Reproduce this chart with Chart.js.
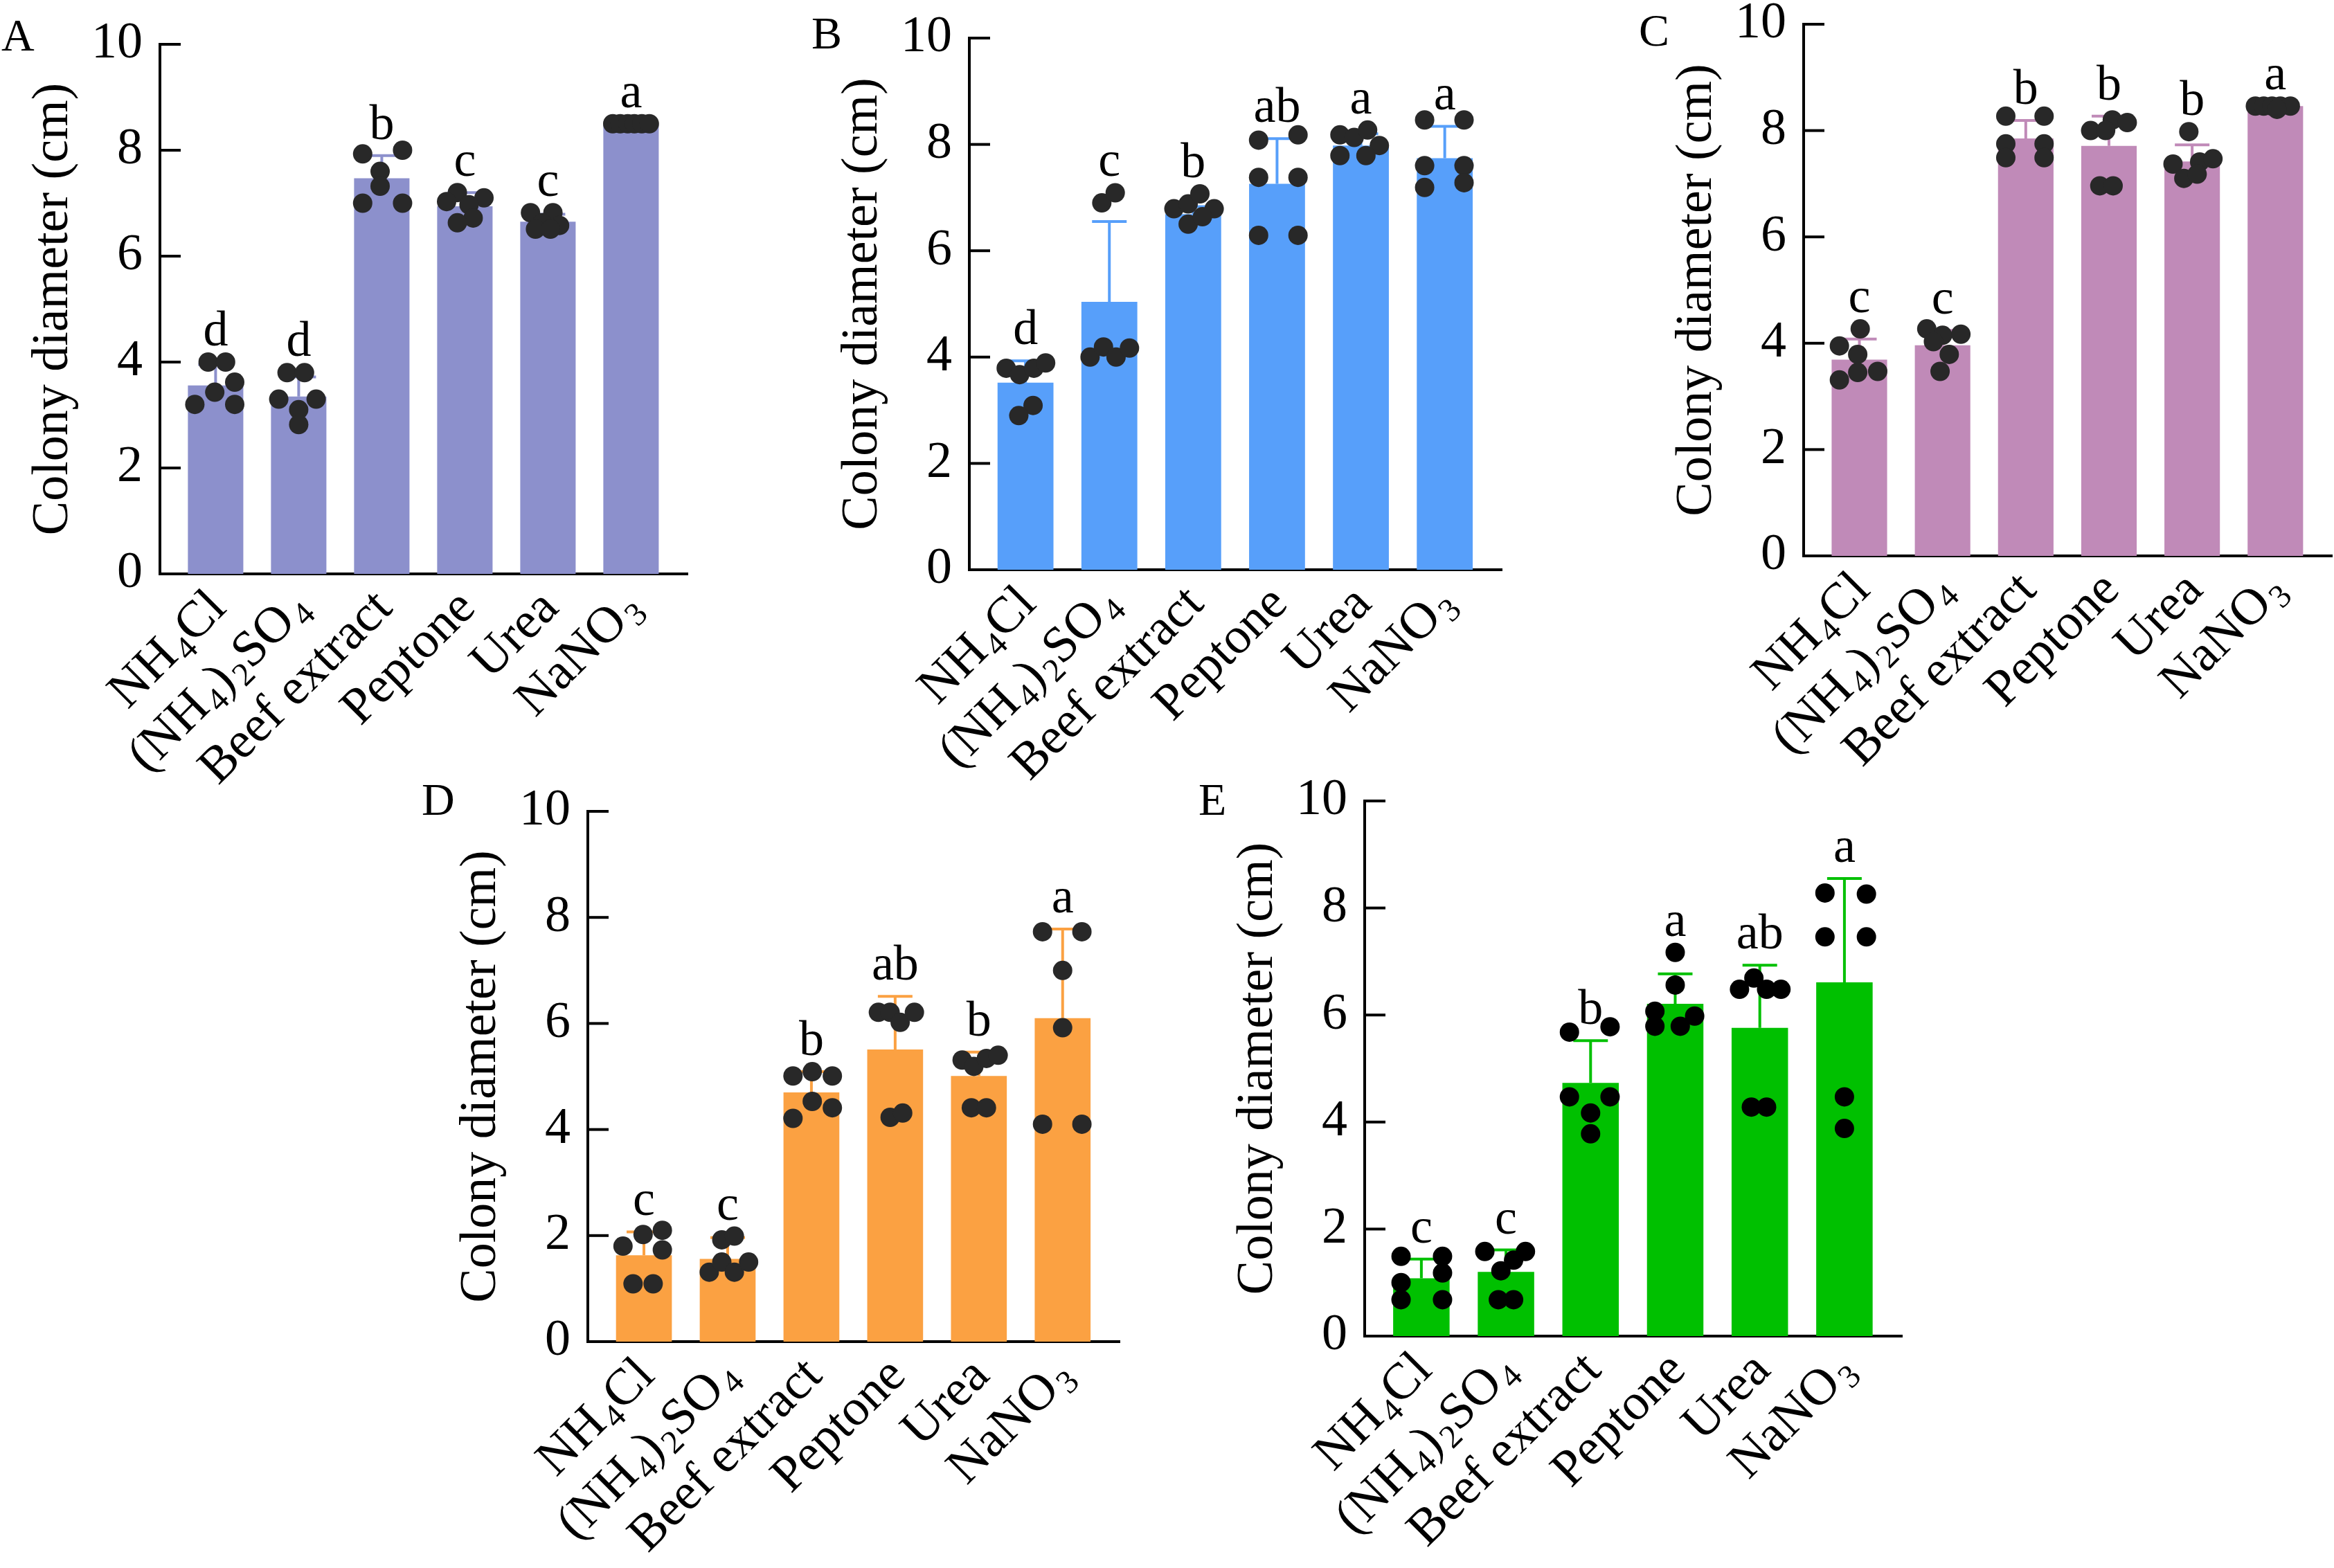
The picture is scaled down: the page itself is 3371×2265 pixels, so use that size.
<!DOCTYPE html>
<html>
<head>
<meta charset="utf-8">
<script src="https://cdn.jsdelivr.net/npm/chart.js@4.4.1/dist/chart.umd.min.js"></script>
<style>
  html, body { margin: 0; padding: 0; background: #fff; }
  body { width: 3371px; height: 2265px; position: relative; overflow: hidden;
         font-family: "Liberation Serif", "Times New Roman", serif; }
  .panel { position: absolute; }
  .tag { position: absolute; font-size: 66px; line-height: 66px; color: #000; }
</style>
</head>
<body>
<script>
// Categories and axis ticks shared by all five panels
const categories = ['NH4Cl', '(NH4)2SO4', 'Beef extract', 'Peptone', 'Urea', 'NaNO3'];
const yTicks = [0, 2, 4, 6, 8, 10];

// Panel A
const meansA = [3.56, 3.35, 7.47, 6.94, 6.65, 8.5];
const sdA = [0.39, 0.37, 0.43, 0.26, 0.14, 0];
const pointsA = [
  [4.0, 4.0, 3.62, 3.43, 3.2, 3.2],
  [3.8, 3.8, 3.3, 3.3, 3.1, 2.82],
  [7.93, 8.0, 7.6, 7.32, 7.0, 7.0],
  [7.2, 7.03, 7.1, 6.97, 6.72, 6.63],
  [6.82, 6.82, 6.63, 6.58, 6.51, 6.51],
  [8.5, 8.5, 8.5, 8.5, 8.5, 8.5]
];
const lettersA = ['d', 'd', 'b', 'c', 'c', 'a'];

// Panel B
const meansB = [3.52, 5.04, 6.69, 7.26, 7.98, 7.74];
const sdB = [0.41, 1.51, 0.14, 0.85, 0.22, 0.6];
const pointsB = [
  [3.79, 3.67, 3.79, 3.89, 3.09, 2.9],
  [6.9, 7.09, 4.0, 4.19, 4.0, 4.17],
  [6.79, 6.88, 7.07, 6.79, 6.5, 6.64],
  [8.08, 8.18, 7.38, 7.38, 6.29, 6.29],
  [8.18, 8.13, 8.27, 7.98, 7.79, 7.79],
  [8.46, 8.46, 7.6, 7.6, 7.19, 7.28]
];
const lettersB = ['d', 'c', 'b', 'ab', 'a', 'a'];

// Panel C
const meansC = [3.69, 3.96, 7.85, 7.71, 7.42, 8.46];
const sdC = [0.39, 0.28, 0.34, 0.56, 0.31, 0];
const pointsC = [
  [3.95, 4.27, 3.79, 3.47, 3.45, 3.31],
  [4.27, 4.15, 4.17, 4.03, 3.79, 3.47],
  [8.27, 8.27, 7.75, 7.75, 7.49, 7.49],
  [8.0, 8.2, 8.15, 8.0, 6.96, 6.96],
  [7.98, 7.37, 7.41, 7.47, 7.1, 7.18],
  [8.46, 8.46, 8.46, 8.46, 8.46, 8.4]
];
const lettersC = ['c', 'c', 'b', 'b', 'b', 'a'];

// Panel D
const meansD = [1.63, 1.56, 4.7, 5.51, 5.01, 6.1];
const sdD = [0.44, 0.4, 0.39, 1.0, 0.45, 1.68];
const pointsD = [
  [1.8, 2.02, 2.1, 1.73, 1.09, 1.09],
  [1.92, 1.99, 1.31, 1.5, 1.31, 1.5],
  [5.01, 5.09, 5.01, 4.53, 4.41, 4.21],
  [6.21, 6.21, 6.02, 6.21, 4.23, 4.31],
  [5.31, 5.19, 5.34, 5.4, 4.41, 4.41],
  [7.73, 7.73, 7.0, 5.92, 4.1, 4.1]
];
const lettersD = ['c', 'c', 'b', 'ab', 'b', 'a'];

// Panel E
const meansE = [1.08, 1.2, 4.73, 6.21, 5.76, 6.61];
const sdE = [0.36, 0.41, 0.79, 0.56, 1.17, 1.94];
const pointsE = [
  [1.49, 1.49, 1.18, 1.0, 0.68, 0.68],
  [1.58, 1.58, 1.42, 1.22, 0.68, 0.68],
  [5.68, 5.78, 4.47, 4.47, 4.17, 3.78],
  [7.17, 6.56, 6.07, 5.98, 5.79, 5.79],
  [6.48, 6.69, 6.48, 6.48, 4.28, 4.28],
  [8.28, 8.26, 7.46, 7.46, 4.47, 3.88]
];
const lettersE = ['c', 'c', 'b', 'a', 'ab', 'a'];

// Horizontal scatter of the dots inside each bar (fraction of category width)
const spreadA = [
  [-0.09, 0.12, 0.23, -0.01, -0.25, 0.23],
  [-0.14, 0.07, -0.24, 0.21, 0, 0],
  [-0.23, 0.25, -0.02, -0.02, -0.23, 0.25],
  [-0.09, -0.22, 0.23, 0.05, 0.1, -0.09],
  [-0.21, 0.06, -0.07, 0.14, -0.15, 0.03],
  [-0.22, -0.13, -0.04, 0.04, 0.13, 0.22]
];
const spreadB = [
  [-0.23, -0.07, 0.10, 0.24, 0.09, -0.08],
  [-0.09, 0.07, -0.23, -0.07, 0.08, 0.24],
  [-0.23, -0.06, 0.08, 0.25, -0.06, 0.11],
  [-0.22, 0.25, -0.22, 0.25, -0.22, 0.25],
  [-0.25, -0.08, 0.08, 0.22, -0.25, 0.06],
  [-0.24, 0.23, -0.24, 0.23, -0.24, 0.23]
];
const spreadC = [
  [-0.24, 0.01, -0.02, 0.22, -0.02, -0.24],
  [-0.19, 0, 0.22, -0.11, 0.08, -0.03],
  [-0.24, 0.22, -0.24, 0.22, -0.24, 0.22],
  [-0.22, 0.04, 0.22, -0.04, -0.11, 0.05],
  [-0.04, -0.23, 0.09, 0.25, -0.1, 0.06],
  [-0.24, -0.14, -0.04, 0.06, 0.18, 0.02]
];
const spreadD = [
  [-0.25, -0.01, 0.22, 0.22, -0.13, 0.11],
  [-0.07, 0.08, -0.22, -0.07, 0.08, 0.25],
  [-0.22, 0.01, 0.25, 0.01, 0.25, -0.22],
  [-0.2, -0.06, 0.06, 0.23, -0.06, 0.09],
  [-0.2, -0.06, 0.09, 0.23, -0.09, 0.09],
  [-0.24, 0.23, 0, 0, -0.24, 0.23]
];
const spreadE = [
  [-0.24, 0.25, 0.25, -0.24, -0.24, 0.25],
  [-0.25, 0.23, 0.09, -0.06, -0.09, 0.09],
  [-0.25, 0.23, -0.25, 0.23, 0, 0],
  [0, 0, -0.24, 0.23, -0.24, 0.06],
  [-0.24, -0.07, 0.08, 0.25, -0.1, 0.08],
  [-0.23, 0.26, -0.23, 0.26, 0, 0]
];

const FONT = '"Liberation Serif", "Times New Roman", serif';
Chart.defaults.font.family = FONT;
Chart.defaults.color = '#000';

const panels = [
  { tag: 'A', tagPos: [2, 18], box: { left: 231, top: 64, right: 993, bottom: 829 },
    means: meansA, sd: sdA, points: pointsA, spread: spreadA, letters: lettersA,
    color: '#8c90cc', dot: '#282828' },
  { tag: 'B', tagPos: [1172, 15], box: { left: 1400, top: 55, right: 2169, bottom: 823 },
    means: meansB, sd: sdB, points: pointsB, spread: spreadB, letters: lettersB,
    color: '#579ffa', dot: '#282828' },
  { tag: 'C', tagPos: [2367, 11], box: { left: 2605, top: 35, right: 3368, bottom: 803 },
    means: meansC, sd: sdC, points: pointsC, spread: spreadC, letters: lettersC,
    color: '#c08ab8', dot: '#282828' },
  { tag: 'D', tagPos: [609, 1122], box: { left: 849, top: 1172, right: 1617, bottom: 1938 },
    means: meansD, sd: sdD, points: pointsD, spread: spreadD, letters: lettersD,
    color: '#fba142', dot: '#282828' },
  { tag: 'E', tagPos: [1731, 1122], box: { left: 1971, top: 1157, right: 2747, bottom: 1930 },
    means: meansE, sd: sdE, points: pointsE, spread: spreadE, letters: lettersE,
    color: '#00c000', dot: '#000000' }
];

// draws a label with digits as subscripts, right end at (x, y), rotated 45 degrees
function drawFormula(ctx, text, x, y) {
  const runs = [];
  for (const ch of text) {
    const sub = /\d/.test(ch);
    const last = runs[runs.length - 1];
    if (last && last.sub === sub) last.t += ch;
    else runs.push({ t: ch, sub: sub });
  }
  const big = '74px ' + FONT, small = '48px ' + FONT;
  let total = 0;
  runs.forEach(r => {
    ctx.font = r.sub ? small : big;
    r.w = ctx.measureText(r.t).width;
    total += r.w + (r.sub ? 4 : 0);
  });
  ctx.save();
  ctx.translate(x, y);
  ctx.rotate(-Math.PI / 4);
  ctx.textAlign = 'left';
  ctx.textBaseline = 'alphabetic';
  ctx.fillStyle = '#000';
  let cx = -total;
  runs.forEach(r => {
    if (r.sub) cx += 4;
    ctx.font = r.sub ? small : big;
    ctx.fillText(r.t, cx, r.sub ? 12 : 0);
    cx += r.w;
  });
  ctx.restore();
}

function makePanel(p) {
  const YW = 200, PT = 130, PR = 20, PB = 360;
  const W = p.box.right - p.box.left + YW + PR;
  const H = p.box.bottom - p.box.top + PT + PB;

  const wrap = document.createElement('div');
  wrap.className = 'panel';
  wrap.style.left = (p.box.left - YW) + 'px';
  wrap.style.top = (p.box.top - PT) + 'px';
  wrap.style.width = W + 'px';
  wrap.style.height = H + 'px';
  const canvas = document.createElement('canvas');
  canvas.width = W;
  canvas.height = H;
  wrap.appendChild(canvas);
  document.body.appendChild(wrap);

  const tag = document.createElement('div');
  tag.className = 'tag';
  tag.textContent = p.tag;
  tag.style.left = p.tagPos[0] + 'px';
  tag.style.top = p.tagPos[1] + 'px';
  document.body.appendChild(tag);

  const dots = [];
  p.points.forEach((vals, i) => vals.forEach((v, j) => dots.push({ x: i + p.spread[i][j], y: v })));

  // error bars (mean to mean + SD), drawn right after the bars
  const errorBars = {
    id: 'errorBars',
    afterDatasetDraw(chart, args) {
      if (args.index !== 0) return;
      const { ctx, scales: { x, y } } = chart;
      ctx.save();
      ctx.strokeStyle = p.color;
      ctx.lineWidth = 4;
      p.means.forEach((m, i) => {
        if (!p.sd[i]) return;
        const px = x.getPixelForValue(i);
        const y0 = y.getPixelForValue(m);
        const y1 = y.getPixelForValue(m + p.sd[i]);
        ctx.beginPath();
        ctx.moveTo(px, y0);
        ctx.lineTo(px, y1);
        ctx.moveTo(px - 25, y1);
        ctx.lineTo(px + 25, y1);
        ctx.stroke();
      });
      ctx.restore();
    }
  };

  // inward y ticks, significance letters and x labels
  const decorations = {
    id: 'decorations',
    afterDraw(chart) {
      const { ctx, chartArea, scales: { x, y } } = chart;
      ctx.save();
      ctx.strokeStyle = '#000';
      ctx.lineWidth = 4;
      yTicks.forEach(v => {
        const py = y.getPixelForValue(v);
        ctx.beginPath();
        ctx.moveTo(chartArea.left, py);
        ctx.lineTo(chartArea.left + 30, py);
        ctx.stroke();
      });

      ctx.fillStyle = '#000';
      ctx.font = '72px ' + FONT;
      ctx.textAlign = 'center';
      ctx.textBaseline = 'alphabetic';
      p.letters.forEach((t, i) => {
        let base = y.getPixelForValue(p.means[i] + p.sd[i]) - 24;
        p.points[i].forEach((v, j) => {
          if (Math.abs(p.spread[i][j]) < 0.15) base = Math.min(base, y.getPixelForValue(v) - 24);
        });
        ctx.fillText(t, x.getPixelForValue(i), base);
      });
      ctx.restore();

      categories.forEach((c, i) => {
        drawFormula(ctx, c, x.getPixelForValue(i) + 18, chartArea.bottom + 52);
      });
    }
  };

  new Chart(canvas, {
    type: 'bar',
    data: {
      datasets: [
        {
          type: 'bar',
          data: p.means.map((m, i) => ({ x: i, y: m })),
          backgroundColor: p.color,
          borderWidth: 0,
          barPercentage: 0.667,
          categoryPercentage: 1,
          order: 2
        },
        {
          type: 'scatter',
          data: dots,
          pointRadius: 14,
          pointBackgroundColor: p.dot,
          pointBorderWidth: 0,
          order: 1
        }
      ]
    },
    options: {
      responsive: false,
      devicePixelRatio: 1,
      animation: false,
      layout: { padding: { left: 0, right: PR, top: PT, bottom: PB } },
      plugins: { legend: { display: false }, tooltip: { enabled: false } },
      scales: {
        x: {
          type: 'linear',
          min: -0.67,
          max: 5.68,
          offset: false,
          afterBuildTicks(scale) { scale.ticks = categories.map((c, i) => ({ value: i })); },
          ticks: { display: false },
          grid: { display: false, drawTicks: false, offset: false },
          border: { display: true, color: '#000', width: 4 },
          afterFit(scale) { scale.height = 0; }
        },
        y: {
          min: 0,
          max: 10,
          ticks: { stepSize: 2, padding: 25, color: '#000', font: { size: 74 } },
          grid: { display: false, drawTicks: false },
          border: { display: true, color: '#000', width: 4 },
          title: {
            display: true,
            text: 'Colony diameter (cm)',
            color: '#000',
            font: { size: 74 },
            padding: { top: 2, bottom: 0 }
          },
          afterFit(scale) { scale.width = YW; }
        }
      }
    },
    plugins: [errorBars, decorations]
  });
}

panels.forEach(makePanel);
</script>
</body>
</html>
